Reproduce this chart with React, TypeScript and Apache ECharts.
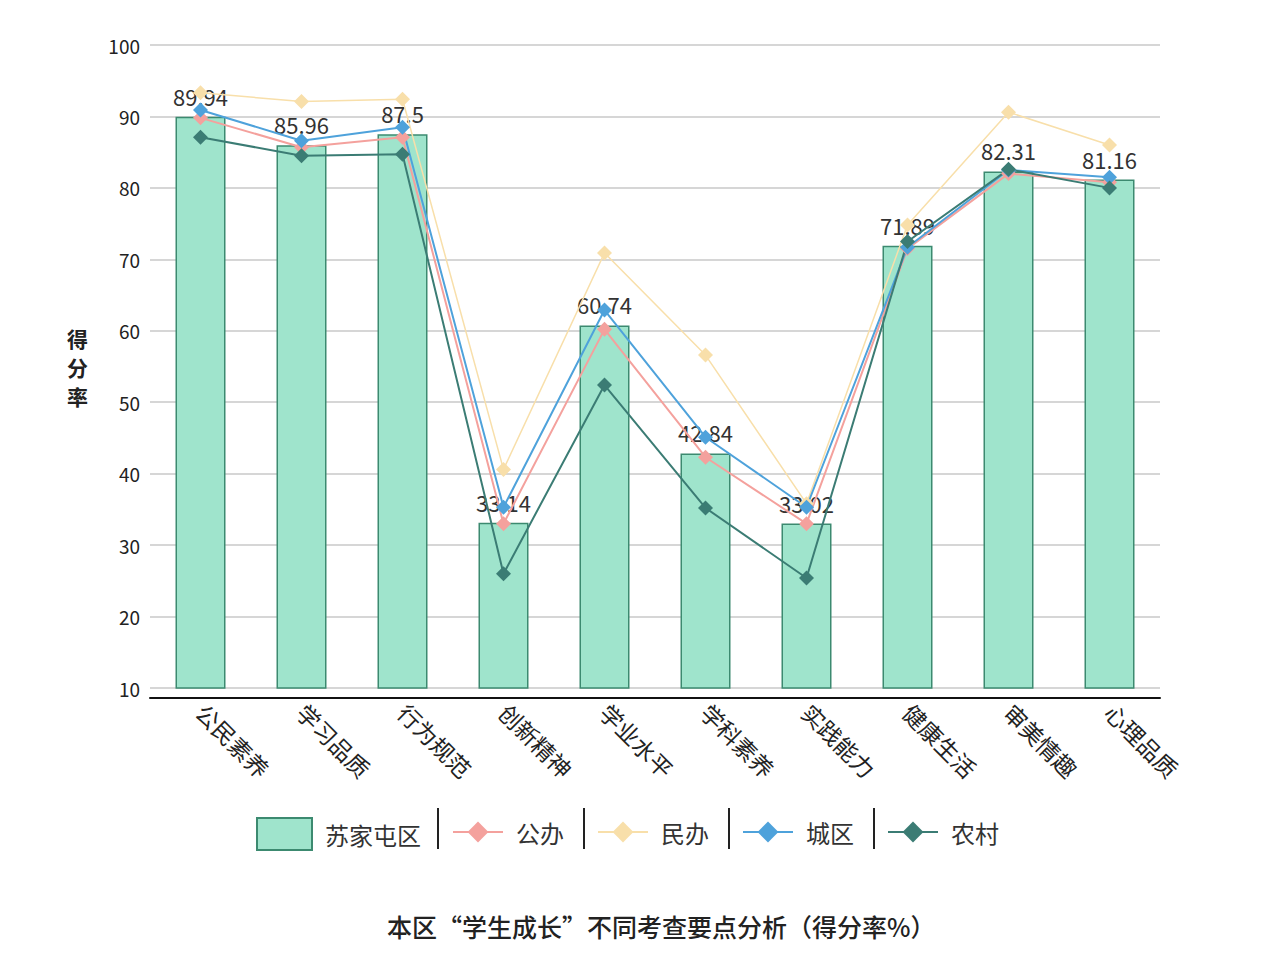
import React, { useEffect, useRef } from "react";
import * as echarts from "echarts";

// 考查要点
const categories = ["公民素养", "学习品质", "行为规范", "创新精神", "学业水平", "学科素养", "实践能力", "健康生活", "审美情趣", "心理品质"];
// 苏家屯区 (柱)
const districtValues = [89.94, 85.96, 87.5, 33.14, 60.74, 42.84, 33.02, 71.89, 82.31, 81.16];
// 公办
const publicValues = [89.8, 85.7, 87.1, 33.0, 60.2, 42.3, 33.0, 71.5, 82.0, 80.8];
// 民办
const privateValues = [93.3, 92.1, 92.4, 40.6, 70.9, 56.6, 35.8, 74.8, 90.6, 86.0];
// 城区
const urbanValues = [90.9, 86.6, 88.5, 35.3, 62.9, 45.1, 35.3, 71.7, 82.5, 81.5];
// 农村
const ruralValues = [87.1, 84.5, 84.7, 26.0, 52.4, 35.2, 25.4, 72.5, 82.6, 80.0];

const FONT = "'Noto Sans CJK SC', 'Noto Sans', sans-serif";

const App: React.FC = () => {
  const chartRef = useRef<HTMLDivElement>(null);

  useEffect(() => {
    const chart = echarts.init(chartRef.current, null, { renderer: "svg" });

    const lineSeries = (name: string, data: number[], color: string, width: number) => ({
      name,
      type: "line",
      data,
      symbol: "diamond",
      symbolSize: 15,
      lineStyle: { color, width },
      itemStyle: { color },
      z: 3,
    });

    const legendText = { fontSize: 24, color: "#333", fontFamily: FONT, padding: [0, 0, 0, 8] };
    const lineLegend = (name: string, left: number) => ({
      data: [name],
      left,
      top: 820,
      padding: 0,
      itemWidth: 50,
      itemHeight: 26,
      textStyle: legendText,
    });

    const option: any = {
      animation: false,
      textStyle: { fontFamily: FONT },
      title: {
        text: "本区“学生成长”不同考查要点分析（得分率%）",
        left: 387,
        top: 913,
        padding: 0,
        textStyle: { fontSize: 25, fontWeight: 500, color: "#222", fontFamily: FONT },
      },
      legend: [
        {
          data: [{ name: "苏家屯区", icon: "rect" }],
          left: 256,
          top: 817,
          padding: 0,
          itemWidth: 55,
          itemHeight: 32,
          textStyle: legendText,
        },
        lineLegend("公办", 452),
        lineLegend("民办", 597),
        lineLegend("城区", 742),
        lineLegend("农村", 887),
      ],
      graphic: [438, 584, 729, 874].map((x) => ({
        type: "line",
        shape: { x1: x, y1: 808, x2: x, y2: 849 },
        style: { stroke: "#222", lineWidth: 2 },
      })),
      grid: { left: 150, right: 120, top: 45, bottom: 276 },
      xAxis: {
        type: "category",
        data: categories,
        offset: 10,
        axisLine: { lineStyle: { color: "#111", width: 2 } },
        axisTick: { show: false },
        axisLabel: { rotate: -45, fontSize: 23, color: "#222", margin: 10, fontFamily: FONT },
      },
      yAxis: {
        type: "value",
        min: 10,
        max: 100,
        interval: 10,
        name: "得\n分\n率",
        nameLocation: "middle",
        nameRotate: 0,
        nameGap: 62,
        nameTextStyle: { fontSize: 21, fontWeight: "bold", color: "#222", lineHeight: 29, fontFamily: FONT },
        axisLine: { show: false },
        axisTick: { show: false },
        axisLabel: { fontSize: 19, color: "#222", margin: 10, fontFamily: FONT },
        splitLine: { lineStyle: { color: "#c8c8c8", width: 1.5 } },
      },
      series: [
        {
          name: "苏家屯区",
          type: "bar",
          data: districtValues,
          barWidth: 50,
          itemStyle: { color: "#9fe4cc", borderColor: "#3c8a70", borderWidth: 1.5 },
          label: { show: true, position: "top", distance: 10, fontSize: 22, color: "#333", fontFamily: FONT },
          z: 2,
        },
        lineSeries("公办", publicValues, "#f4a19d", 2),
        lineSeries("民办", privateValues, "#f8dfaa", 1.5),
        lineSeries("城区", urbanValues, "#4ea2db", 2),
        lineSeries("农村", ruralValues, "#3b7c74", 2),
      ],
    };

    chart.setOption(option);
    return () => chart.dispose();
  }, []);

  return (
    <div
      ref={chartRef}
      style={{ position: "fixed", left: 0, top: 0, width: 1280, height: 964, background: "#fff" }}
    />
  );
};

export default App;
